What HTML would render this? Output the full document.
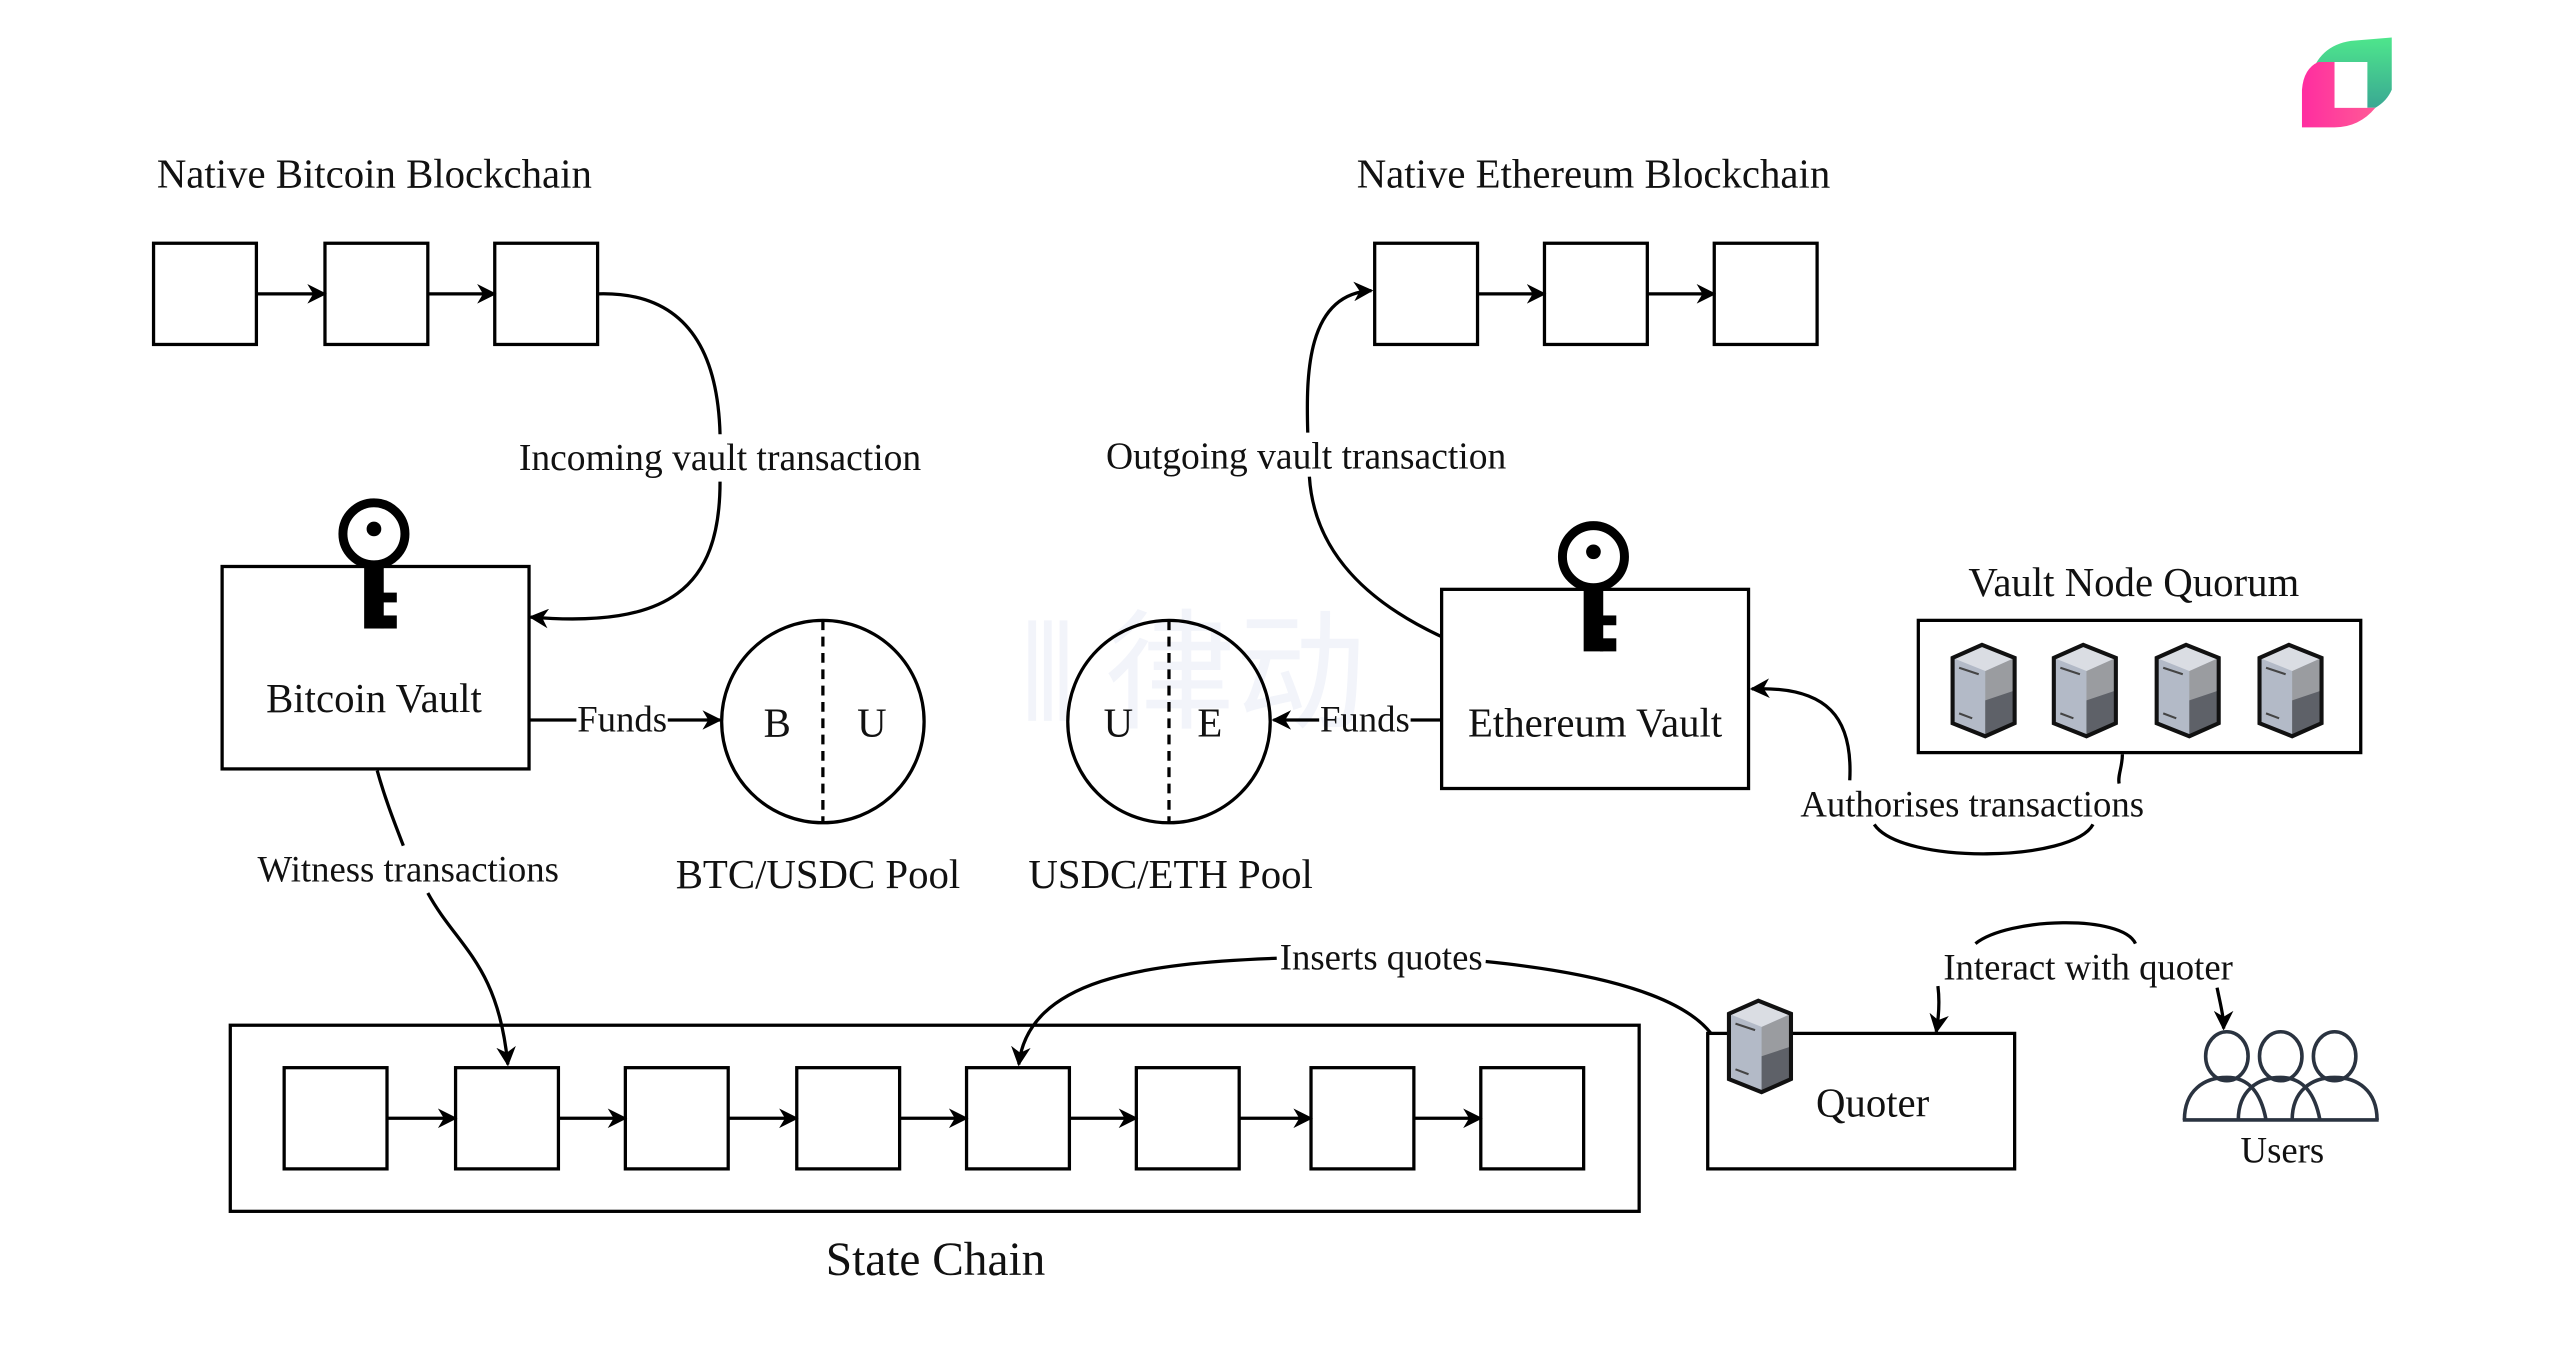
<!DOCTYPE html>
<html><head><meta charset="utf-8"><style>
html,body{margin:0;padding:0;background:#fff;}
svg{display:block;}
text{font-family:"Liberation Serif",serif;fill:#111;}
</style></head><body>
<svg width="2560" height="1355" viewBox="0 0 1568 830" xmlns="http://www.w3.org/2000/svg">
<defs>
<marker id="a" viewBox="0 0 10 10" refX="9" refY="5" markerWidth="12" markerHeight="12" orient="auto" markerUnits="userSpaceOnUse"><path d="M0,0 L10,5 L0,10 L3,5 Z" fill="#000"/></marker>
<linearGradient id="g1" x1="0" y1="0" x2="0" y2="1"><stop offset="0" stop-color="#4ee68c"/><stop offset="1" stop-color="#3aa893"/></linearGradient>
<linearGradient id="g2" x1="0" y1="0" x2="1" y2="0"><stop offset="0" stop-color="#ff2da0"/><stop offset="1" stop-color="#ff5a96"/></linearGradient>
<g id="srv">
<path d="M0,8 L18,0 L38,8 L38,48 L20,56 L0,48 Z" fill="#b3bac7"/>
<path d="M20,16 L38,8 L38,48 L20,56 Z" fill="#9a9ca0"/>
<path d="M20,34 L38,28 L38,48 L20,56 Z" fill="#5e6168"/>
<path d="M0,8 L18,0 L38,8 L20,16 Z" fill="#dadde3"/>
<path d="M0,8 L18,0 L38,8 L38,48 L20,56 L0,48 Z" fill="none" stroke="#111" stroke-width="2.5"/>
<path d="M4,14 L16,18 M4,42 L12,45" stroke="#444" stroke-width="1.3"/>
</g>
<g id="key">
<circle cx="0" cy="0" r="19" fill="#fff" stroke="#000" stroke-width="5.5"/>
<circle cx="0" cy="-3" r="4.5" fill="#000"/>
<rect x="-6" y="18" width="12" height="40" fill="#000"/>
<rect x="4" y="36" width="10" height="6" fill="#000"/>
<rect x="4" y="50" width="10" height="8" fill="#000"/>
</g>
</defs>

<!-- logo -->
<path d="M1415,48 Q1420,28 1440,25 L1465,23 L1465,55 Q1462,62 1455,66 L1450,66 L1450,38 L1420,38 Z" fill="url(#g1)"/>
<path d="M1410,78 L1410,55 Q1411,42 1420,38 L1430,38 L1430,66 L1455,66 Q1445,78 1430,78 Z" fill="url(#g2)"/>
<rect x="1430" y="38" width="20" height="28" fill="#fff"/>

<!-- watermark -->
<text x="625" y="440" font-size="80" style="fill:#e6eaf6;font-family:'Noto Sans CJK SC',sans-serif;" opacity="0.5">⫴ 律动</text>

<g fill="none" stroke="#000" stroke-width="2">
<rect x="94" y="149" width="63" height="62"/><rect x="199" y="149" width="63" height="62"/><rect x="303" y="149" width="63" height="62"/>
<path d="M157,180 H199" marker-end="url(#a)"/><path d="M262,180 H303" marker-end="url(#a)"/>
<rect x="842" y="149" width="63" height="62"/><rect x="946" y="149" width="63" height="62"/><rect x="1050" y="149" width="63" height="62"/>
<path d="M905,180 H946" marker-end="url(#a)"/><path d="M1009,180 H1050" marker-end="url(#a)"/>
<rect x="136" y="347" width="188" height="124"/>
<rect x="883" y="361" width="188" height="122"/>
<rect x="1175" y="380" width="271" height="81"/>
<circle cx="504" cy="442" r="62"/><circle cx="716" cy="442" r="62"/>
<path d="M504,380 V504 M716,380 V504" stroke-dasharray="6,4"/>
<rect x="141" y="628" width="863" height="114"/>
<rect x="174" y="654" width="63" height="62"/><rect x="279" y="654" width="63" height="62"/><rect x="383" y="654" width="63" height="62"/><rect x="488" y="654" width="63" height="62"/><rect x="592" y="654" width="63" height="62"/><rect x="696" y="654" width="63" height="62"/><rect x="803" y="654" width="63" height="62"/><rect x="907" y="654" width="63" height="62"/>
<path d="M237,685 H279" marker-end="url(#a)"/><path d="M342,685 H383" marker-end="url(#a)"/><path d="M446,685 H488" marker-end="url(#a)"/><path d="M551,685 H592" marker-end="url(#a)"/><path d="M655,685 H696" marker-end="url(#a)"/><path d="M759,685 H803" marker-end="url(#a)"/><path d="M866,685 H907" marker-end="url(#a)"/>
<rect x="1046" y="633" width="188" height="83"/>
<path d="M366,180 C430,178 440,230 441,266"/>
<path d="M441,295 C441,360 410,385 325,378" marker-end="url(#a)"/>
<path d="M801,265 C800,230 800,180 840,178" marker-end="url(#a)"/>
<path d="M802,292 C805,340 840,370 883,390"/>
<path d="M324,441 H353"/><path d="M409,441 H441" marker-end="url(#a)"/>
<path d="M883,441 H864"/><path d="M808,441 H780" marker-end="url(#a)"/>
<path d="M231,472 C236,490 242,505 247,518"/>
<path d="M262,547 C280,580 305,590 311,652" marker-end="url(#a)"/>
<path d="M1300,462 C1300,470 1297,475 1298,480"/>
<path d="M1282,505 C1270,528 1165,530 1148,505"/>
<path d="M1133,478 C1135,440 1120,420 1073,422" marker-end="url(#a)"/>
<path d="M782,587 C700,590 630,600 624,652" marker-end="url(#a)"/>
<path d="M910,589 C980,596 1030,610 1048,633"/>
<path d="M1187,604 C1188,612 1188,620 1186,632" marker-end="url(#a)"/>
<path d="M1210,578 C1230,562 1300,560 1308,578"/>
<path d="M1358,605 C1360,615 1362,622 1362,630" marker-end="url(#a)"/>
</g>

<use href="#key" x="229" y="327"/>
<use href="#key" x="976" y="341"/>

<use href="#srv" x="1196" y="395"/><use href="#srv" x="1258" y="395"/><use href="#srv" x="1321" y="395"/><use href="#srv" x="1384" y="395"/>
<use href="#srv" x="1059" y="613"/>

<g fill="none" stroke="#2a3340" stroke-width="2.2">
<ellipse cx="1364" cy="647" rx="13" ry="15"/><ellipse cx="1397" cy="647" rx="13" ry="15"/><ellipse cx="1430" cy="647" rx="13" ry="15"/>
<path d="M1338,686 C1338,668 1350,660 1364,660 C1378,660 1385,670 1388,686"/>
<path d="M1371,686 C1371,668 1383,660 1397,660 C1411,660 1418,670 1421,686"/>
<path d="M1404,686 C1404,668 1416,660 1430,660 C1444,660 1456,668 1456,686"/>
<path d="M1337,686 H1457"/>
</g>

<g font-size="25">
<text x="96" y="115">Native Bitcoin Blockchain</text>
<text x="831" y="115">Native Ethereum Blockchain</text>
<text x="441" y="288" text-anchor="middle" font-size="23">Incoming vault transaction</text>
<text x="800" y="287" text-anchor="middle" font-size="23">Outgoing vault transaction</text>
<text x="229" y="436" text-anchor="middle">Bitcoin Vault</text>
<text x="977" y="451" text-anchor="middle">Ethereum Vault</text>
<text x="1307" y="365" text-anchor="middle">Vault Node Quorum</text>
<text x="381" y="448" text-anchor="middle" font-size="22.5">Funds</text>
<text x="836" y="448" text-anchor="middle" font-size="22.5">Funds</text>
<text x="476" y="451" text-anchor="middle">B</text><text x="534" y="451" text-anchor="middle">U</text>
<text x="685" y="451" text-anchor="middle">U</text><text x="741" y="451" text-anchor="middle">E</text>
<text x="501" y="544" text-anchor="middle">BTC/USDC Pool</text>
<text x="717" y="544" text-anchor="middle">USDC/ETH Pool</text>
<text x="250" y="540" text-anchor="middle" font-size="22.5">Witness transactions</text>
<text x="1208" y="500" text-anchor="middle" font-size="22.5">Authorises transactions</text>
<text x="846" y="594" text-anchor="middle" font-size="22.5">Inserts quotes</text>
<text x="1279" y="600" text-anchor="middle" font-size="22.5">Interact with quoter</text>
<text x="1147" y="684" text-anchor="middle">Quoter</text>
<text x="1398" y="712" text-anchor="middle" font-size="22.5">Users</text>
<text x="573" y="781" text-anchor="middle" font-size="29">State Chain</text>
</g>
</svg>
</body></html>
